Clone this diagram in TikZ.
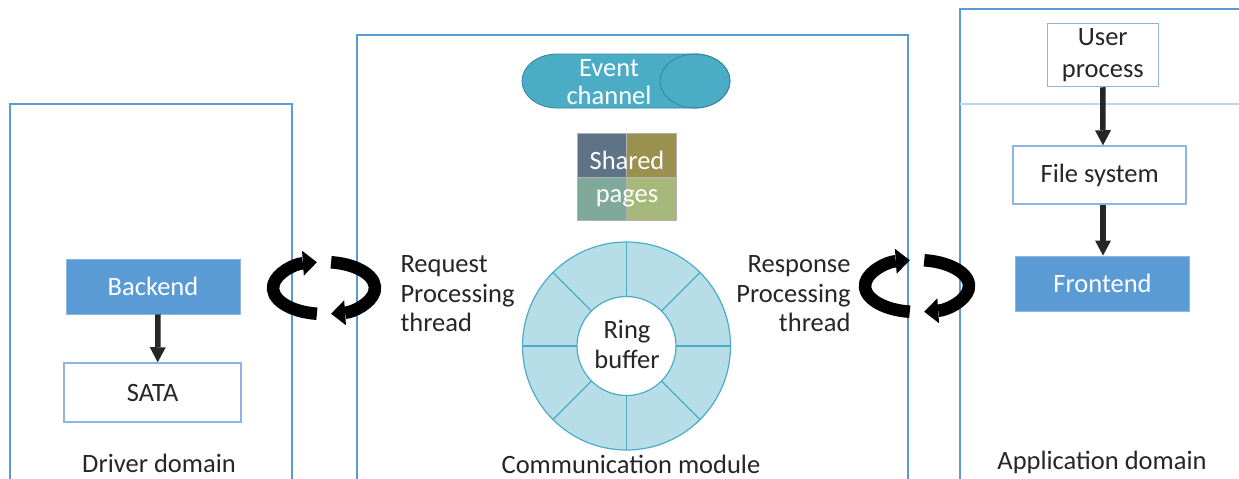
\documentclass[tikz,border=0pt]{standalone}
\usepackage{fontspec}
\setmainfont{Carlito}
\usetikzlibrary{arrows.meta}

\definecolor{domainblue}{HTML}{5B9BD5}
\definecolor{dividerblue}{HTML}{BDD7EE}
\definecolor{boxedge}{HTML}{8DB4E2}
\definecolor{textgray}{HTML}{262626}
\definecolor{arrowgray}{HTML}{262626}
\definecolor{chanfill}{HTML}{4BACC6}
\definecolor{chanedge}{HTML}{31859C}
\definecolor{ringfill}{HTML}{B7DEE8}
\definecolor{ringedge}{HTML}{4BACC6}
\definecolor{pageA}{HTML}{5F7387}
\definecolor{pageB}{HTML}{9B914F}
\definecolor{pageC}{HTML}{7FA99A}
\definecolor{pageD}{HTML}{A7B97A}

\tikzset{
  bigtext/.style={font=\fontsize{26.5}{30}\selectfont, text=textgray},
  domainlabel/.style={bigtext, inner sep=0.5pt},
  domainline/.style={draw=domainblue, line width=1.4pt},
  plainbox/.style={bigtext, draw=boxedge, line width=1.5pt, fill=white,
    inner sep=0pt, align=center},
  filledbox/.style={font=\fontsize{26.5}{30}\selectfont, text=white,
    fill=domainblue, draw=boxedge, line width=0.8pt, inner sep=0pt, align=center},
  flow/.style={draw=arrowgray, line width=5.5pt,
    -{Triangle[width=16pt,length=15pt,line width=0pt]}},
  cyc/.style={draw=black, line width=12.5pt,
    -{Triangle[width=25pt,length=14pt,line width=0pt]}},
}

\begin{document}
\begin{tikzpicture}[x=1pt,y=-1pt]
\useasboundingbox (0,0) rectangle (1239,479);
\fill[white] (0,0) rectangle (1239,479);

% domain frames (open at the bottom)
\draw[domainline] (10,480) -- (10,104) -- (292,104) -- (292,480);
\draw[domainline] (357,480) -- (357,35) -- (908,35) -- (908,480);
\draw[domainline] (960,480) -- (960,9) -- (1240,9);
\draw[draw=dividerblue, line width=1.4pt] (960,104) -- (1240,104);

% driver domain
\node[filledbox, minimum width=174pt, minimum height=55pt] (backend) at (153,286.5) {Backend};
\node[plainbox, minimum width=177pt, minimum height=59pt] (sata) at (152.7,392.5) {SATA};
\draw[flow] ([xshift=5pt]backend.south) -- ([xshift=5pt]sata.north);
\node[domainlabel] (drv) at (159,463) {Driver domain};

% application domain
\node[plainbox, minimum width=111pt, minimum height=63pt,
  font=\fontsize{26.5}{32}\selectfont] (user) at (1102.8,55) {User\\process};
\node[plainbox, minimum width=173pt, minimum height=58pt] (fs) at (1099.7,175) {File system};
\node[filledbox, minimum width=174pt, minimum height=55pt] (front) at (1102.5,283.4) {Frontend};
\draw[flow] (user.south) -- ([xshift=3.3pt]fs.north);
\draw[flow] ([xshift=3.3pt]fs.south) -- ([xshift=0.5pt]front.north);
\node[domainlabel] (app) at (1102,462) {Application domain};

% event channel (horizontal cylinder)
\filldraw[fill=chanfill, draw=chanedge, line width=0.8pt]
  (557,54) -- (695,54) arc[start angle=270, end angle=450, x radius=35, y radius=27]
  -- (557,108) arc[start angle=90, end angle=270, x radius=35, y radius=27] -- cycle;
\draw[chanedge, line width=0.8pt] (695,81) ellipse[x radius=35, y radius=27];
\node[font=\fontsize{26.5}{28}\selectfont, text=white, align=center] (chan) at (609,82.5) {Event\\channel};

% shared pages
\filldraw[fill=pageA, draw=black!30, line width=0.5pt] (577,133) rectangle (626,177);
\filldraw[fill=pageB, draw=black!30, line width=0.5pt] (626,133) rectangle (676,177);
\filldraw[fill=pageC, draw=black!30, line width=0.5pt] (577,177) rectangle (626,220);
\filldraw[fill=pageD, draw=black!30, line width=0.5pt] (626,177) rectangle (676,220);
\node[font=\fontsize{26.5}{33}\selectfont, text=white, align=center] (shared) at (627,179) {Shared\\pages};

% ring buffer
\filldraw[fill=ringfill, draw=ringedge, line width=1.2pt] (626.5,346) circle[radius=104];
\foreach \a in {0,45,...,315}
  \draw[ringedge, line width=1.2pt] ([shift={(\a:49.5)}]626.5,346) -- ([shift={(\a:104)}]626.5,346);
\filldraw[fill=white, draw=ringedge, line width=1.2pt] (626.5,346) circle[radius=49.5];
\node[bigtext, align=center] (ring) at (627,344.5) {Ring\\buffer};
\node[domainlabel] (comm) at (631,464.5) {Communication module};

% processing threads
\draw[cyc] ([shift={(98:51 and 26)}]324,288) arc[start angle=98, end angle=262, x radius=51, y radius=26];
\draw[cyc] ([shift={(-82:51 and 26)}]324,288) arc[start angle=-82, end angle=82, x radius=51, y radius=26];
\node[bigtext, align=left, anchor=west, font=\fontsize{26.5}{29.5}\selectfont] (req) at (397,294) {Request\\Processing\\thread};

\draw[cyc] ([shift={(98:52 and 26)}]917,286) arc[start angle=98, end angle=262, x radius=52, y radius=26];
\draw[cyc] ([shift={(-82:52 and 26)}]917,286) arc[start angle=-82, end angle=82, x radius=52, y radius=26];
\node[bigtext, align=right, anchor=east, font=\fontsize{26.5}{29.5}\selectfont] (resp) at (854,294) {Response\\Processing\\thread};
\end{tikzpicture}
\end{document}
